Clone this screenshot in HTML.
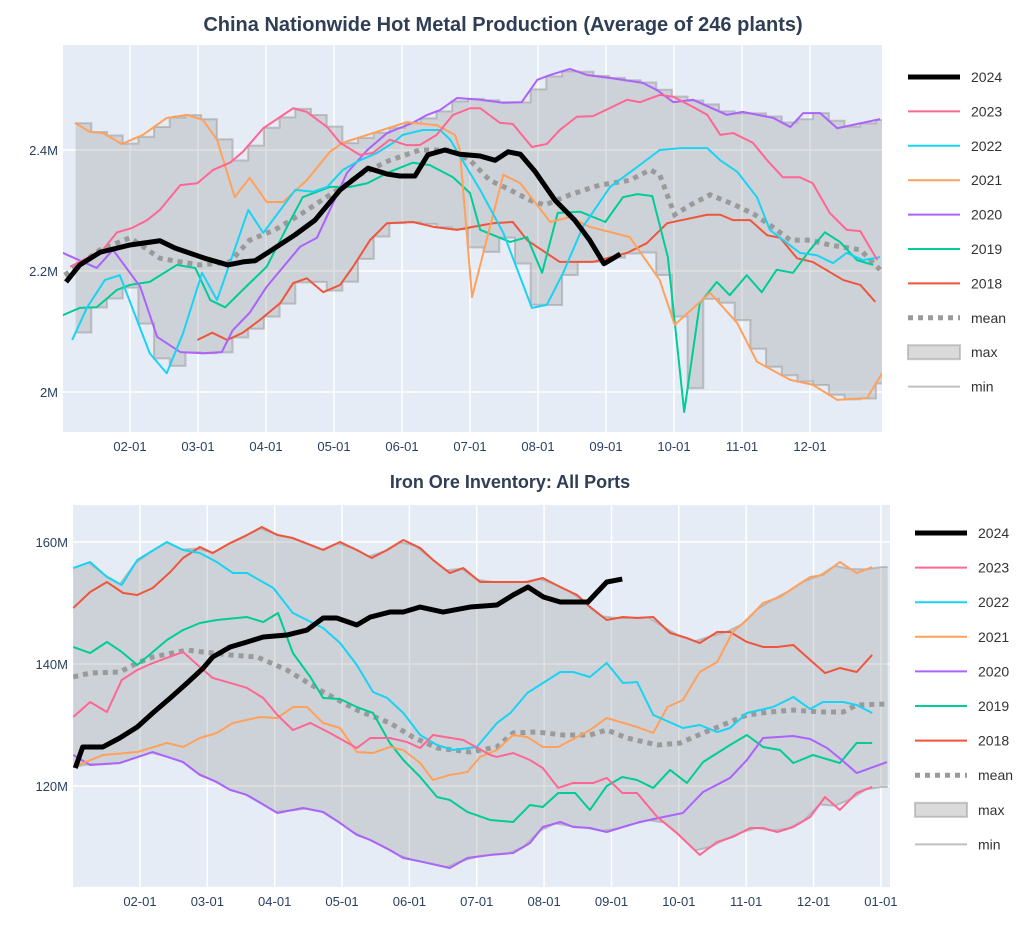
<!DOCTYPE html>
<html><head><meta charset="utf-8">
<style>
body{margin:0;background:#fff;font-family:"Liberation Sans",sans-serif;}
svg{display:block}
text{font-family:"Liberation Sans",sans-serif;fill:#2a3f5f}
</style></head>
<body>
<svg id="chart" width="1036" height="933" viewBox="0 0 1036 933">
<defs>
<clipPath id="clipTop"><rect x="63" y="45" width="819" height="387"/></clipPath>
<clipPath id="clipBot"><rect x="73" y="505" width="817" height="382"/></clipPath>
</defs>
<rect x="63" y="45" width="819" height="387" fill="#e5ecf6"/>
<rect x="73" y="505" width="817" height="382" fill="#e5ecf6"/>
<text x="503" y="31" text-anchor="middle" font-size="20" font-weight="bold" style="fill:#2f3e55">China Nationwide Hot Metal Production (Average of 246 plants)</text>
<text x="510" y="488" text-anchor="middle" font-size="18" font-weight="bold" style="fill:#2f3e55">Iron Ore Inventory: All Ports</text>
<g id="topG"></g>
<g id="botG"></g>
</svg>
<script>
// ---------- TOP CHART DATA (month fraction of year, value in millions) ----------
const topTicksV = [2.0, 2.2, 2.4];
const topTickLabels = ["2M", "2.2M", "2.4M"];
const monthTickLabels = ["02-01","03-01","04-01","05-01","06-01","07-01","08-01","09-01","10-01","11-01","12-01"];
const monthTickT = [1,2,3,4,5,6,7,8,9,10,11];
const botMonthTickLabels = ["02-01","03-01","04-01","05-01","06-01","07-01","08-01","09-01","10-01","11-01","12-01","01-01"];
const botMonthTickT = [1,2,3,4,5,6,7,8,9,10,11,12];

const topT2024 = [0.06,0.26,0.56,1.0,1.44,1.66,2.10,2.44,2.66,2.84,3.09,3.43,3.72,4.09,4.5,4.79,4.97,5.19,5.38,5.63,5.85,6.15,6.37,6.56,6.74,6.96,7.25,7.54,7.76,7.97,8.21];
const topV2024 = [2.182,2.210,2.231,2.243,2.250,2.238,2.221,2.210,2.215,2.217,2.235,2.260,2.284,2.334,2.370,2.360,2.357,2.357,2.392,2.400,2.393,2.390,2.383,2.397,2.393,2.364,2.317,2.284,2.251,2.212,2.228];
const topT2023 = [0.12,0.60,0.81,1.03,1.25,1.44,1.74,1.99,2.22,2.47,2.66,2.96,3.40,3.60,3.90,4.09,4.38,4.57,4.82,5.07,5.26,5.51,5.75,6.0,6.15,6.44,6.63,6.91,7.13,7.32,7.57,7.81,8.31,8.50,8.79,8.99,9.28,9.49,9.68,9.87,10.16,10.37,10.60,10.85,11.04,11.29,11.54,11.74,11.99];
const topV2023 = [2.207,2.235,2.264,2.271,2.284,2.301,2.342,2.345,2.367,2.379,2.397,2.436,2.469,2.463,2.438,2.412,2.392,2.395,2.417,2.408,2.408,2.425,2.458,2.469,2.469,2.445,2.443,2.405,2.410,2.433,2.455,2.456,2.483,2.479,2.491,2.488,2.471,2.458,2.425,2.428,2.412,2.383,2.355,2.355,2.345,2.296,2.268,2.266,2.218];
const topT2022 = [0.15,0.37,0.63,0.85,1.29,1.54,1.78,2.06,2.28,2.74,2.96,3.43,3.69,3.90,4.13,4.38,4.63,4.87,5.01,5.31,5.56,5.71,6.0,6.15,6.49,6.91,7.13,7.37,7.66,8.06,8.40,8.79,9.09,9.49,9.68,9.93,10.22,10.41,10.85,11.10,11.34,11.54,11.78,12.03];
const topV2022 = [2.086,2.140,2.185,2.193,2.064,2.031,2.097,2.197,2.152,2.301,2.263,2.334,2.331,2.339,2.367,2.383,2.395,2.412,2.425,2.433,2.433,2.417,2.362,2.334,2.263,2.139,2.144,2.197,2.273,2.339,2.367,2.4,2.403,2.403,2.383,2.364,2.322,2.268,2.230,2.226,2.213,2.230,2.218,2.223];
const topT2021 = [0.19,0.41,0.60,0.88,1.19,1.54,1.84,2.07,2.28,2.54,2.76,3.01,3.25,3.60,3.94,4.13,5.07,5.51,5.78,5.85,6.03,6.49,6.74,7.18,7.47,7.76,8.35,8.79,9.01,9.53,9.93,10.22,10.71,11.04,11.40,11.84,12.06];
const topV2021 = [2.445,2.430,2.428,2.410,2.425,2.453,2.458,2.450,2.417,2.322,2.354,2.314,2.314,2.350,2.397,2.412,2.446,2.441,2.425,2.4,2.157,2.359,2.345,2.281,2.289,2.273,2.256,2.185,2.111,2.164,2.114,2.050,2.020,2.012,1.987,1.990,2.031];
const topT2020 = [0.01,0.51,0.75,1.15,1.40,1.74,2.07,2.35,2.51,2.76,3.01,3.50,3.75,3.94,4.19,4.49,4.78,5.16,5.37,5.56,5.81,6.15,6.49,6.76,6.99,7.18,7.47,7.72,8.06,8.54,8.75,8.99,9.28,9.78,10.01,10.46,10.71,10.90,11.15,11.40,12.03];
const topV2020 = [2.230,2.205,2.235,2.174,2.091,2.066,2.064,2.066,2.102,2.131,2.174,2.240,2.255,2.301,2.362,2.4,2.428,2.445,2.458,2.466,2.486,2.483,2.478,2.479,2.516,2.524,2.534,2.524,2.519,2.511,2.499,2.479,2.483,2.458,2.463,2.453,2.438,2.461,2.461,2.436,2.451];
const topT2019 = [0.01,0.26,0.51,0.81,1.0,1.29,1.69,1.96,2.18,2.40,2.66,3.01,3.31,3.54,3.94,4.24,4.49,4.82,5.16,5.41,5.75,6.0,6.15,6.59,6.84,7.06,7.29,7.62,7.99,8.25,8.46,8.68,8.91,9.15,9.38,9.63,9.82,10.07,10.29,10.51,10.75,11.0,11.22,11.44,11.69,11.93];
const topV2019 = [2.127,2.139,2.140,2.169,2.177,2.182,2.210,2.205,2.152,2.140,2.169,2.207,2.273,2.322,2.339,2.339,2.345,2.364,2.379,2.375,2.355,2.329,2.268,2.248,2.256,2.197,2.296,2.298,2.281,2.322,2.327,2.324,2.223,1.967,2.147,2.182,2.160,2.193,2.165,2.202,2.197,2.235,2.264,2.248,2.218,2.210];
const topT2018 = [1.99,2.21,2.43,2.66,2.91,3.21,3.40,3.60,3.84,4.09,4.28,4.53,4.78,5.16,5.46,5.81,6.04,6.34,6.63,6.84,7.32,7.81,8.31,8.60,8.90,9.49,9.68,9.87,10.12,10.37,10.56,10.81,11.04,11.49,11.74,11.96];
const topV2018 = [2.086,2.098,2.086,2.098,2.119,2.147,2.180,2.188,2.165,2.177,2.207,2.251,2.279,2.281,2.273,2.268,2.273,2.279,2.281,2.251,2.215,2.215,2.230,2.246,2.279,2.293,2.293,2.284,2.284,2.259,2.255,2.221,2.215,2.185,2.177,2.149];
const topTMean = [0.04,0.56,1.0,1.44,1.74,2.03,2.47,2.76,3.13,3.5,3.94,4.38,4.82,5.26,5.71,6.0,6.29,6.59,6.88,7.10,7.47,7.91,8.35,8.65,8.79,9.01,9.24,9.53,9.90,10.19,10.41,10.71,11.0,11.29,11.74,12.03];
const topVMean = [2.193,2.235,2.255,2.221,2.215,2.210,2.215,2.251,2.268,2.293,2.326,2.359,2.383,2.4,2.4,2.383,2.350,2.334,2.317,2.309,2.326,2.342,2.350,2.367,2.359,2.293,2.309,2.326,2.309,2.293,2.276,2.251,2.251,2.243,2.235,2.202];

// ---------- BOTTOM CHART DATA ----------
const botTicksV = [120, 140, 160];
const botTickLabels = ["120M", "140M", "160M"];
const botT2024 = [0.04,0.15,0.45,0.70,0.96,1.19,1.45,1.70,1.94,2.08,2.34,2.59,2.83,3.18,3.48,3.72,3.92,4.22,4.42,4.71,4.91,5.16,5.50,5.90,6.30,6.54,6.76,6.99,7.24,7.65,7.93,8.16];
const botV2024 = [122.95,126.40,126.40,127.87,129.67,131.97,134.43,136.89,139.34,141.15,142.79,143.61,144.43,144.75,145.57,147.54,147.54,146.39,147.70,148.52,148.52,149.34,148.52,149.34,149.67,151.31,152.62,150.98,150.16,150.16,153.44,153.93];
const botT2023 = [0.01,0.26,0.51,0.73,0.96,1.19,1.64,1.89,2.08,2.34,2.59,2.83,3.04,3.27,3.53,3.82,4.22,4.42,4.71,4.96,5.16,5.35,5.80,6.20,6.30,6.54,6.79,6.98,7.21,7.43,7.73,7.93,8.16,8.38,8.68,8.97,9.31,9.57,9.80,10.06,10.25,10.46,10.70,10.95,11.17,11.39,11.64,11.87];
const botV2023 = [131.31,133.77,132.13,137.38,139.02,140.16,141.97,139.51,137.71,136.89,136.07,134.43,131.64,129.18,130.33,128.69,126.23,127.87,127.87,127.22,126.23,128.36,127.54,125.08,124.76,125.41,124.26,122.95,119.68,120.50,120.50,121.32,118.86,118.86,114.92,112.30,108.70,110.83,111.65,113.12,113.12,112.46,113.28,114.92,118.20,116.07,118.86,119.84];
const botT2022 = [0.01,0.26,0.51,0.73,0.96,1.40,1.64,1.89,2.14,2.38,2.59,2.98,3.27,3.72,3.97,4.22,4.46,4.67,4.91,5.16,5.41,5.65,6.00,6.30,6.50,6.75,7.24,7.43,7.68,7.93,8.17,8.38,8.62,9.06,9.31,9.57,9.76,10.01,10.40,10.70,10.95,11.14,11.44,11.64,11.87];
const botV2022 = [155.73,156.72,154.26,152.95,157.05,160.0,158.69,158.19,156.72,154.91,154.91,152.46,148.36,145.90,143.44,139.84,135.41,134.43,131.97,128.36,126.72,125.90,126.40,130.33,131.97,135.25,138.69,138.69,137.87,140.16,136.89,137.05,131.64,129.51,130.0,128.85,129.51,131.97,132.95,134.59,132.62,133.77,133.77,133.28,131.97];
const botT2021 = [0.01,0.45,0.96,1.40,1.64,1.89,2.14,2.38,2.78,3.04,3.27,3.48,3.72,3.97,4.22,4.46,4.71,4.91,5.16,5.35,5.60,5.86,6.05,6.30,6.54,6.75,6.98,7.21,7.49,7.68,7.93,8.38,8.62,8.83,9.06,9.31,9.57,9.80,10.01,10.25,10.50,10.70,10.95,11.14,11.39,11.64,11.87];
const botV2021 = [123.12,125.08,125.57,127.05,126.40,127.87,128.69,130.33,131.31,131.15,132.95,132.95,130.33,129.51,125.57,125.41,126.40,125.90,123.77,120.99,121.81,122.30,124.76,125.90,128.36,128.03,126.40,126.40,128.03,129.18,131.15,129.67,128.69,132.95,134.10,138.69,140.33,145.25,147.21,150.0,150.98,152.46,154.26,154.59,156.72,154.91,155.90];
const botT2020 = [0.01,0.26,0.70,1.19,1.64,1.89,2.14,2.34,2.59,3.04,3.42,3.72,3.97,4.22,4.42,4.71,4.91,5.20,5.60,5.86,6.20,6.54,6.79,6.98,7.24,7.43,7.68,7.93,8.17,8.42,8.77,9.06,9.36,9.76,10.01,10.25,10.70,10.95,11.20,11.42,11.64,12.09];
const botV2020 = [125.08,123.44,123.77,125.57,123.93,121.81,120.66,119.35,118.53,115.58,116.40,115.74,113.94,111.97,111.15,109.51,108.20,107.55,106.56,108.20,108.70,109.02,110.66,113.28,114.10,113.28,113.12,112.46,113.28,114.10,114.92,115.58,119.02,121.32,124.26,127.87,128.20,127.71,126.23,124.26,122.13,123.93];
const botT2019 = [0.01,0.26,0.51,0.73,0.96,1.19,1.40,1.64,1.89,2.14,2.59,2.83,3.05,3.27,3.53,3.72,3.97,4.22,4.46,4.71,4.91,5.16,5.41,5.60,5.86,6.20,6.54,6.79,6.98,7.21,7.46,7.68,7.93,8.16,8.38,8.62,8.87,9.12,9.36,9.76,10.01,10.25,10.50,10.70,10.99,11.39,11.64,11.87];
const botV2019 = [142.79,141.80,143.61,141.97,139.84,141.97,143.93,145.57,146.72,147.21,147.70,146.88,148.36,141.80,137.87,134.43,134.26,132.95,131.97,127.05,124.26,121.48,118.20,117.71,115.74,114.43,114.10,116.89,116.56,118.86,118.86,116.07,120.0,121.48,120.99,119.68,122.63,120.50,123.93,126.72,128.36,126.40,125.90,123.77,125.08,123.77,127.05,127.05];
const botT2018 = [0.01,0.26,0.51,0.75,0.96,1.19,1.45,1.64,1.89,2.08,2.34,2.59,2.81,3.04,3.27,3.72,3.97,4.22,4.44,4.67,4.91,5.16,5.35,5.60,5.80,6.05,6.50,6.75,6.98,7.24,7.49,7.68,7.93,8.17,8.38,8.62,8.87,9.12,9.31,9.57,9.76,10.01,10.25,10.46,10.70,10.95,11.17,11.39,11.64,11.87];
const botV2018 = [149.18,151.80,153.44,151.64,151.31,152.46,155.08,157.38,159.18,158.19,159.83,161.14,162.45,161.14,160.65,158.69,160.0,158.69,157.38,158.69,160.33,159.01,157.05,154.91,155.73,153.44,153.44,153.44,154.10,152.62,151.31,149.34,147.21,147.70,147.54,147.70,145.08,144.26,143.44,145.25,145.25,143.61,142.79,142.79,143.11,140.66,138.52,139.34,138.69,141.48];
const botTMean = [0.01,0.26,0.70,0.96,1.19,1.70,1.94,2.34,2.74,3.18,3.72,4.22,4.71,5.05,5.41,5.90,6.30,6.54,6.89,7.28,7.68,7.93,8.23,8.68,9.02,9.36,9.76,10.01,10.35,10.70,11.10,11.44,11.64,12.09];
const botVMean = [137.87,138.52,138.69,140.16,141.15,142.29,141.97,141.48,141.15,139.02,135.41,132.46,130.33,128.03,126.23,125.57,126.40,128.69,128.85,128.36,128.36,129.18,127.87,126.72,127.05,128.69,130.49,131.64,132.13,132.46,132.13,132.13,133.28,133.44];

const legendLabels = ["2024","2023","2022","2021","2020","2019","2018","mean","max","min"];

const NS = "http://www.w3.org/2000/svg";
function mk(parent, tag, attrs) {
  const e = document.createElementNS(NS, tag);
  for (const k in attrs) e.setAttribute(k, attrs[k]);
  parent.appendChild(e);
  return e;
}
function interp(ts, vs, t, extend) {
  if (t < ts[0]) return null;
  if (t > ts[ts.length - 1]) return extend ? vs[vs.length - 1] : null;
  for (let i = 1; i < ts.length; i++) {
    if (t <= ts[i]) {
      const f = (t - ts[i-1]) / (ts[i] - ts[i-1]);
      return vs[i-1] + f * (vs[i] - vs[i-1]);
    }
  }
  return vs[vs.length - 1];
}
function envelope(seriesT, seriesV, t0, t1, extend) {
  const ts = [], hi = [], lo = [];
  const step = 12 / 52;
  const grid = [];
  for (let t = t0; t < t1 - 1e-6; t += step) grid.push(t);
  grid.push(t1);
  for (const t of grid) {
    let mx = -Infinity, mn = Infinity;
    for (let s = 0; s < seriesT.length; s++) {
      const v = interp(seriesT[s], seriesV[s], t, extend);
      if (v !== null) { mx = Math.max(mx, v); mn = Math.min(mn, v); }
    }
    if (mx > -Infinity) { ts.push(t); hi.push(mx); lo.push(mn); }
  }
  return { ts, hi, lo };
}
const colors = {"2024":"#000000","2023":"#ff6692","2022":"#19d3f3","2021":"#ffa15a","2020":"#ab63fa","2019":"#00cc96","2018":"#ef553b"};

function drawChart(g, cfg) {
  const sx = t => cfg.x0 + t * cfg.xPerMonth;
  const sy = v => cfg.yRef - (v - cfg.vRef) * cfg.yPerUnit;
  cfg.monthT.forEach((t, i) => {
    const gl = mk(g, "line", {x1: sx(t), x2: sx(t), y1: cfg.top, y2: cfg.bottom, stroke: "#fff", "stroke-width": 1.5});
    
    
    const tl = mk(g, "text", {x: sx(t), y: cfg.bottom + 19, "text-anchor": "middle", "font-size": 13});
    tl.textContent = cfg.monthLabels[i];
    
    
  });
  cfg.yTicks.forEach((v, i) => {
    const gl = mk(g, "line", {x1: cfg.left, x2: cfg.right, y1: sy(v), y2: sy(v), stroke: "#fff", "stroke-width": 1.5});
    
    
    const tl = mk(g, "text", {x: cfg.left - 5, y: sy(v) + 5, "text-anchor": "end", "font-size": 13});
    tl.textContent = cfg.yLabels[i];
    
    
  });
  const pg = mk(g, "g", {"clip-path": cfg.clip});
  const env = envelope(cfg.yearsT, cfg.yearsV, cfg.bandT0, cfg.bandT1, cfg.extend);
  let hiPts = [], loPts = [];
  for (let i = 0; i < env.ts.length; i++) {
    if (cfg.step && i > 0) {
      hiPts.push([sx(env.ts[i]), sy(env.hi[i-1])]);
      loPts.push([sx(env.ts[i]), sy(env.lo[i-1])]);
    }
    hiPts.push([sx(env.ts[i]), sy(env.hi[i])]);
    loPts.push([sx(env.ts[i]), sy(env.lo[i])]);
  }
  const poly = hiPts.concat(loPts.slice().reverse()).map(p => p.join(",")).join(" ");
  const band = mk(pg, "polygon", {points: poly, fill: "rgba(150,150,150,0.3)", stroke: "none"});
  
  
  const maxL = mk(pg, "polyline", {points: hiPts.map(p => p.join(",")).join(" "), fill: "none", stroke: "rgba(150,150,150,0.5)", "stroke-width": 2});
  
  
  const minL = mk(pg, "polyline", {points: loPts.map(p => p.join(",")).join(" "), fill: "none", stroke: "rgba(150,150,150,0.5)", "stroke-width": 2});
  
  
  const mean = mk(pg, "polyline", {points: cfg.meanT.map((t, i) => sx(t) + "," + sy(cfg.meanV[i])).join(" "), fill: "none", stroke: "#9a9a9a", "stroke-width": 5, "stroke-dasharray": "5,5"});
  
  
  for (let s = cfg.years.length - 1; s >= 0; s--) {
    const y = cfg.years[s];
    const ts = cfg.allT[s], vs = cfg.allV[s];
    const l = mk(pg, "polyline", {points: ts.map((t, i) => sx(t) + "," + sy(vs[i])).join(" "), fill: "none", stroke: colors[y], "stroke-width": y === "2024" ? 5 : 2, "stroke-linejoin": "round"});
    
    
  }
  legendLabels.forEach((lab, i) => {
    const yy = cfg.legY0 + i * cfg.legDy;
    const lx = cfg.legX;
    const item = mk(g, "g", {});
    
    
    if (colors[lab]) {
      mk(item, "line", {x1: lx, x2: lx + 52, y1: yy, y2: yy, stroke: colors[lab], "stroke-width": lab === "2024" ? 5 : 2});
    } else if (lab === "mean") {
      mk(item, "line", {x1: lx, x2: lx + 52, y1: yy, y2: yy, stroke: "#9a9a9a", "stroke-width": 5, "stroke-dasharray": "5,5"});
    } else if (lab === "max") {
      mk(item, "rect", {x: lx, y: yy - 7, width: 52, height: 14, fill: "rgba(150,150,150,0.35)", stroke: "rgba(150,150,150,0.5)", "stroke-width": 2});
    } else {
      mk(item, "line", {x1: lx, x2: lx + 52, y1: yy, y2: yy, stroke: "rgba(150,150,150,0.6)", "stroke-width": 2});
    }
    const tx = mk(item, "text", {x: lx + 63, y: yy + 5, "font-size": 14, style: "fill:#333"});
    tx.textContent = lab;
  });
}

const yearsList = ["2024","2023","2022","2021","2020","2019","2018"];
drawChart(document.getElementById("topG"), {
  x0: 62, xPerMonth: 68, yRef: 150, vRef: 2.4, yPerUnit: 605,
  left: 63, right: 882, top: 45, bottom: 432, clip: "url(#clipTop)",
  monthT: monthTickT, monthLabels: monthTickLabels, yTicks: topTicksV, yLabels: topTickLabels,
  years: yearsList,
  allT: [topT2024, topT2023, topT2022, topT2021, topT2020, topT2019, topT2018],
  allV: [topV2024, topV2023, topV2022, topV2021, topV2020, topV2019, topV2018],
  yearsT: [topT2023, topT2022, topT2021, topT2020, topT2019, topT2018],
  yearsV: [topV2023, topV2022, topV2021, topV2020, topV2019, topV2018],
  bandT0: 0.2, bandT1: 12.1, step: true, extend: true,
  meanT: topTMean, meanV: topVMean,
  legX: 908, legY0: 77, legDy: 34.4
});
drawChart(document.getElementById("botG"), {
  x0: 72.6, xPerMonth: 67.36, yRef: 664, vRef: 140, yPerUnit: 6.1,
  left: 73, right: 890, top: 505, bottom: 887, clip: "url(#clipBot)",
  monthT: botMonthTickT, monthLabels: botMonthTickLabels, yTicks: botTicksV, yLabels: botTickLabels,
  years: yearsList,
  allT: [botT2024, botT2023, botT2022, botT2021, botT2020, botT2019, botT2018],
  allV: [botV2024, botV2023, botV2022, botV2021, botV2020, botV2019, botV2018],
  yearsT: [botT2023, botT2022, botT2021, botT2020, botT2019, botT2018],
  yearsV: [botV2023, botV2022, botV2021, botV2020, botV2019, botV2018],
  bandT0: 0.01, bandT1: 12.1, step: false, extend: true,
  meanT: botTMean, meanV: botVMean,
  legX: 915, legY0: 533, legDy: 34.6
});
</script>
</body></html>
